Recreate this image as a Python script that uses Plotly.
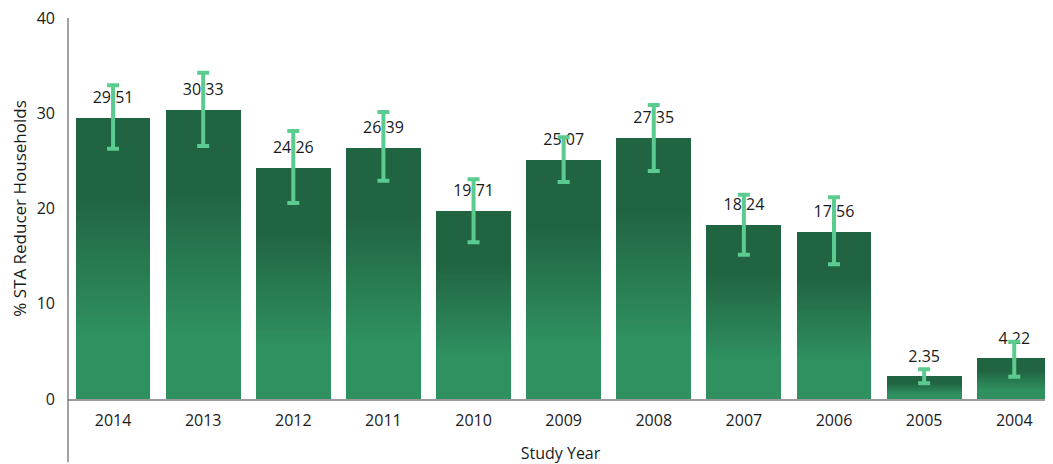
import plotly.graph_objects as go

# ---- data ----
years = ["2014", "2013", "2012", "2011", "2010", "2009", "2008", "2007", "2006", "2005", "2004"]
values = [29.51, 30.33, 24.26, 26.39, 19.71, 25.07, 27.35, 18.24, 17.56, 2.35, 4.22]
err_plus = [3.42, 3.93, 3.88, 3.74, 3.36, 2.40, 3.52, 3.21, 3.61, 0.77, 1.80]
err_minus = [3.23, 3.77, 3.68, 3.47, 3.26, 2.29, 3.41, 3.09, 3.42, 0.70, 1.88]
labels = [f"{v:.2f}" for v in values]

# ---- style ----
FONT = "Open Sans"
TEXT = "#1a1a1a"
DARK = (33, 100, 66)
LIGHT = (47, 145, 96)
ERR = "#5ccb8f"
N_SEG = 60
LABEL_OFFSET = 2.0  # data units above bar top

def grad_color(t):
    # t = 0 at bar bottom, 1 at bar top
    lo, hi = 0.22, 0.72
    if t <= lo:
        f = 0.0
    elif t >= hi:
        f = 1.0
    else:
        f = (t - lo) / (hi - lo)
    r = round(LIGHT[0] + (DARK[0] - LIGHT[0]) * f)
    g = round(LIGHT[1] + (DARK[1] - LIGHT[1]) * f)
    b = round(LIGHT[2] + (DARK[2] - LIGHT[2]) * f)
    return f"rgb({r},{g},{b})"

fig = go.Figure()

# bars drawn as stacked slices to emulate a per-bar vertical gradient
for i in range(N_SEG):
    t = (i + 0.5) / N_SEG
    fig.add_trace(go.Bar(
        x=years,
        y=[v / N_SEG for v in values],
        marker=dict(color=grad_color(t), line=dict(width=0)),
        hoverinfo="skip",
        showlegend=False,
    ))

# value labels
fig.add_trace(go.Scatter(
    x=years,
    y=[v + LABEL_OFFSET for v in values],
    mode="text",
    text=labels,
    textposition="middle center",
    textfont=dict(family=FONT, size=16, color=TEXT),
    hoverinfo="skip",
    showlegend=False,
))

# error bars
fig.add_trace(go.Scatter(
    x=years,
    y=values,
    mode="markers",
    marker=dict(size=1, color="rgba(0,0,0,0)"),
    error_y=dict(type="data", symmetric=False, array=err_plus, arrayminus=err_minus,
                 color=ERR, thickness=4, width=6),
    hoverinfo="skip",
    showlegend=False,
))

fig.update_layout(
    width=1045,
    height=456,
    margin=dict(l=60, r=0, t=10, b=65, autoexpand=False),
    barmode="stack",
    bargap=0.17,
    plot_bgcolor="white",
    paper_bgcolor="white",
    font=dict(family=FONT, size=16, color=TEXT),
    showlegend=False,
    shapes=[dict(type="line", xref="paper", yref="paper", x0=0, x1=0, y0=1, y1=-0.166,
                 line=dict(color="#444444", width=1), layer="above")],
)

fig.update_xaxes(
    type="category",
    range=[-0.5, 10.43],
    showgrid=False,
    zeroline=False,
    showline=True,
    linecolor="rgba(0,0,0,0.4)",
    linewidth=2,
    ticks="",
    ticklabelstandoff=6,
    ticklabeloverflow="allow",
    tickfont=dict(family=FONT, size=16, color=TEXT),
    title=dict(text="Study Year", font=dict(family=FONT, size=16, color=TEXT), standoff=25),
)

fig.update_yaxes(
    range=[0, 40],
    dtick=10,
    showgrid=False,
    zeroline=False,
    showline=False,
    ticks="",
    ticklabelstandoff=12,
    ticklabeloverflow="allow",
    tickfont=dict(family=FONT, size=16, color=TEXT),
    title=dict(text="% STA Reducer Households", font=dict(family=FONT, size=17, color=TEXT), standoff=12),
)

fig.write_html("out.html")
